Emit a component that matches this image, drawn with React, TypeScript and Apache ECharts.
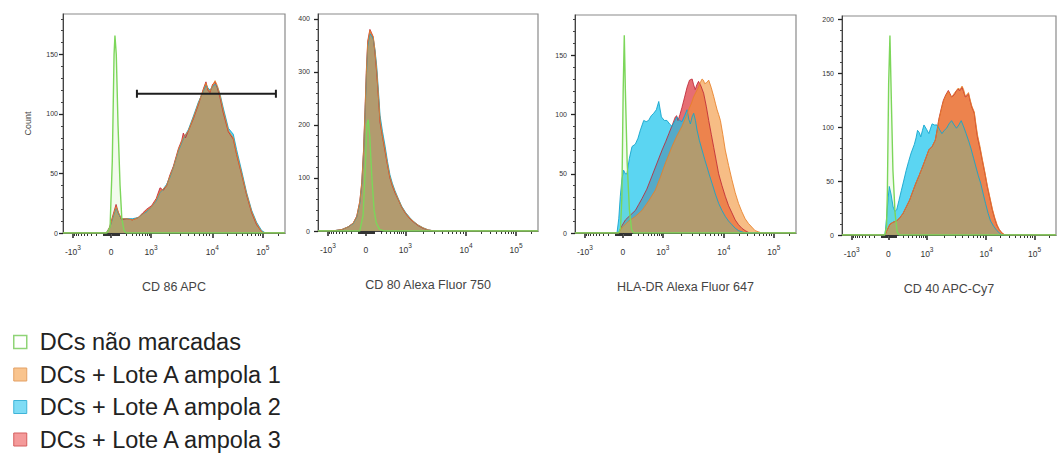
import React, { useEffect, useRef } from "react";
import * as echarts from "echarts";

// ---------- text ----------
const legendNames = [
  "DCs não marcadas",
  "DCs + Lote A ampola 1",
  "DCs + Lote A ampola 2",
  "DCs + Lote A ampola 3",
];
const panelTitles = ["CD 86 APC", "CD 80 Alexa Fluor 750", "HLA-DR Alexa Fluor 647", "CD 40 APC-Cy7"];

// ---------- axes ----------
const yMaxes = [184, 409, 184, 203];
const yMajorSteps = [50, 100, 50, 50];
const yMinorSteps = [10, 20, 10, 10];
const xTickValues = [-1000, 0, 1000, 10000, 100000];
const xTickBases = ["-10", "0", "10", "10", "10"];
const xTickExponents = ["3", "", "3", "4", "5"];
const xMinorValues = [
  -900, -800, -700, -600, -500, -400, -300, -200, -100,
  -90, -80, -70, -60, -50, -40, -30, -20, -10,
  10, 20, 30, 40, 50, 60, 70, 80, 90,
  100, 200, 300, 400, 500, 600, 700, 800, 900,
  2000, 3000, 4000, 5000, 6000, 7000, 8000, 9000,
  20000, 30000, 40000, 50000, 60000, 70000, 80000, 90000,
  200000,
];

// ---------- histograms (x = display channel 0..1000, y = count) ----------
const cd86Green = [[0,0],[198,0],[212,5],[222,60],[230,150],[234,166],[240,150],[248,90],[257,40],[265,12],[275,2],[285,0],[1000,0]];
const cd86Orange = [[0,0],[195,0],[210,4],[225,14],[239,22],[250,17],[264,12],[287,12],[313,11],[339,13],[360,16],[377,19],[399,22],[420,28],[437,35],[452,37],[467,40],[482,48],[497,55],[520,70],[542,80],[565,86],[587,97],[610,109],[632,120],[644,126],[653,121],[662,119],[674,124],[685,128],[695,124],[707,116],[722,103],[745,86],[767,80],[782,67],[805,50],[827,33],[850,18],[872,8],[895,1],[910,0],[1000,0]];
const cd86Cyan = [[0,0],[195,0],[210,4],[225,13],[239,21],[250,16],[264,12],[287,12],[313,12],[339,13],[360,16],[377,18],[399,22],[420,27],[437,34],[452,37],[467,41],[482,47],[497,55],[520,69],[542,79],[565,87],[587,98],[610,110],[632,119],[644,124],[653,122],[662,120],[674,123],[685,125],[695,123],[707,117],[722,105],[745,88],[767,83],[782,70],[805,52],[827,34],[850,19],[872,9],[895,2],[912,0],[1000,0]];
const cd86Red = [[0,0],[195,0],[210,5],[225,15],[239,24],[250,17],[264,11],[287,12],[313,11],[339,13],[360,17],[377,20],[399,23],[420,29],[437,38],[452,36],[467,40],[482,49],[497,56],[520,71],[535,78],[542,84],[552,80],[565,86],[587,96],[610,108],[632,121],[644,127],[653,120],[662,118],[674,125],[685,127],[695,122],[707,114],[722,101],[745,85],[767,79],[782,66],[805,49],[827,32],[850,17],[872,7],[895,1],[910,0],[1000,0]];
const cd86Gate = [[333, 959, 117]];

const cd80Green = [[0,0],[190,0],[205,30],[215,120],[222,200],[228,210],[235,180],[245,100],[255,40],[265,15],[280,3],[300,0],[1000,0]];
const cd80Orange = [[0,0],[47,0],[80,1],[110,3],[138,8],[160,15],[176,27],[190,55],[199,90],[207,150],[214,228],[220,300],[226,354],[236,378],[243,372],[251,367],[259,340],[267,303],[275,255],[282,209],[293,180],[305,153],[316,126],[327,102],[338,87],[350,74],[365,60],[380,46],[398,34],[418,24],[437,17],[456,11],[478,6],[501,2],[530,0],[1000,0]];
const cd80Cyan = [[0,0],[47,0],[80,1],[110,3],[138,8],[160,14],[176,26],[190,52],[199,86],[207,145],[214,222],[220,292],[226,348],[236,372],[243,368],[251,362],[259,342],[267,310],[275,262],[282,218],[293,188],[305,160],[316,131],[327,106],[338,90],[350,76],[365,61],[380,47],[398,35],[418,25],[437,17],[456,11],[478,6],[501,2],[530,0],[1000,0]];
const cd80Red = [[0,0],[47,0],[80,1],[110,3],[138,8],[160,15],[176,28],[190,56],[199,92],[207,152],[214,232],[220,305],[226,358],[236,380],[243,374],[251,365],[259,336],[267,298],[275,250],[282,205],[293,178],[305,150],[316,124],[327,100],[338,85],[350,72],[365,59],[380,45],[398,33],[418,23],[437,16],[456,10],[478,5],[501,2],[530,0],[1000,0]];

const hladrGreen = [[0,0],[198,0],[206,4],[212,30],[218,120],[223,167],[228,120],[236,60],[246,20],[256,3],[265,0],[1000,0]];
const hladrOrange = [[0,0],[197,0],[215,5],[243,10],[273,14],[303,19],[333,27],[363,36],[386,47],[409,59],[424,66],[439,73],[461,82],[484,90],[500,97],[514,104],[526,109],[537,115],[548,119],[559,123],[567,127],[575,130],[581,129],[587,126],[596,127],[605,129],[616,123],[628,115],[636,109],[643,104],[650,100],[658,95],[669,83],[680,70],[695,57],[710,45],[725,34],[740,25],[755,18],[770,12],[785,8],[800,5],[815,2],[830,1],[845,0],[1000,0]];
const hladrCyan = [[0,0],[190,0],[198,12],[205,31],[212,45],[220,53],[228,50],[235,50],[246,63],[258,73],[273,75],[285,80],[296,87],[311,95],[322,94],[333,95],[345,99],[356,101],[368,104],[379,111],[391,98],[404,95],[416,95],[428,92],[439,90],[450,94],[461,98],[473,95],[484,94],[496,99],[507,104],[515,96],[522,92],[530,98],[537,101],[545,95],[552,87],[563,78],[575,70],[587,62],[597,56],[608,49],[620,42],[635,33],[650,25],[665,19],[680,14],[695,10],[710,7],[725,4],[740,2],[770,0],[1000,0]];
const hladrRed = [[0,0],[197,0],[212,6],[228,11],[250,15],[273,19],[288,24],[303,29],[325,37],[348,48],[371,59],[394,70],[410,77],[425,84],[440,91],[454,98],[460,99],[466,95],[475,100],[484,106],[495,114],[507,123],[518,129],[530,130],[537,125],[544,121],[551,125],[559,128],[570,124],[582,118],[594,107],[605,95],[617,83],[628,72],[640,60],[650,50],[665,40],[680,31],[695,23],[710,17],[725,11],[740,7],[755,4],[770,2],[790,0],[1000,0]];

const cd40Green = [[0,0],[200,0],[208,8],[212,40],[218,140],[224,185],[230,130],[238,60],[248,20],[258,3],[268,0],[1000,0]];
const cd40Orange = [[0,0],[201,0],[212,5],[224,10],[240,12],[255,13],[270,16],[285,20],[300,26],[315,32],[330,40],[345,48],[360,55],[376,63],[391,71],[406,79],[421,82],[436,88],[445,97],[452,106],[459,112],[466,118],[474,124],[485,129],[497,133],[505,130],[512,128],[520,130],[527,132],[535,134],[542,136],[552,135],[561,138],[568,135],[576,129],[584,130],[591,132],[598,126],[606,120],[612,117],[618,114],[625,104],[633,93],[645,82],[656,70],[668,58],[679,46],[691,35],[703,24],[714,16],[724,10],[735,5],[747,2],[762,0],[1000,0]];
const cd40Cyan = [[0,0],[201,0],[210,20],[216,35],[221,45],[229,38],[239,26],[247,22],[255,23],[266,32],[277,41],[288,50],[300,60],[311,68],[323,76],[338,84],[346,90],[353,97],[361,95],[368,91],[376,97],[383,102],[395,98],[406,94],[414,99],[421,103],[432,102],[444,102],[455,98],[467,94],[478,97],[489,99],[500,103],[512,106],[524,102],[535,99],[546,102],[557,106],[569,100],[580,94],[592,87],[603,80],[615,71],[626,63],[637,55],[648,48],[660,38],[671,29],[683,20],[694,13],[709,8],[724,4],[735,2],[747,0],[1000,0]];
const cd40Red = [[0,0],[201,0],[212,5],[224,10],[240,12],[255,13],[270,16],[285,20],[300,26],[315,32],[330,40],[345,48],[360,55],[376,63],[391,71],[406,79],[421,82],[436,88],[445,98],[452,107],[459,113],[466,119],[474,125],[485,130],[497,134],[505,131],[512,128],[520,129],[527,131],[535,134],[542,135],[552,134],[561,137],[568,133],[576,128],[584,129],[591,131],[598,125],[606,119],[612,116],[618,113],[625,102],[633,91],[645,80],[656,69],[668,57],[679,45],[691,34],[703,23],[714,15],[724,9],[735,5],[747,2],[760,0],[1000,0]];

const panels = [
  { green: cd86Green, orange: cd86Orange, cyan: cd86Cyan, red: cd86Red },
  { green: cd80Green, orange: cd80Orange, cyan: cd80Cyan, red: cd80Red },
  { green: hladrGreen, orange: hladrOrange, cyan: hladrCyan, red: hladrRed },
  { green: cd40Green, orange: cd40Orange, cyan: cd40Cyan, red: cd40Red },
];

// ---------- layout / style ----------
const GRIDS = [
  { left: 63, top: 14, width: 222, height: 219 },
  { left: 318, top: 14, width: 220, height: 217 },
  { left: 575, top: 15, width: 221, height: 218 },
  { left: 842, top: 16, width: 214, height: 219 },
];
const FONT = "'Liberation Sans', Arial, sans-serif";

// biexponential-like display scale for the tick marks (value -> channel 0..1000)
function toChannel(v: number): number {
  if (v >= 10000) return 673 + (Math.log10(v) - 4) * 227;
  if (v >= 1000) return 397 + (Math.log10(v) - 3) * 276;
  if (v >= 0) return 217 + 77.9 * Math.asinh(v / 200);
  return 217 - 74.4 * Math.asinh(-v / 200);
}

function range(step: number, max: number) {
  const out: number[] = [];
  for (let v = 0; v <= max + 1e-9; v += step) out.push(v);
  return out;
}

function buildOption() {
  const majorPos = xTickValues.map(toChannel);
  const minorPos = xMinorValues.map(toChannel);
  const xLabelFor = (v: number) => {
    let best = 0;
    majorPos.forEach((p, i) => {
      if (Math.abs(p - v) < Math.abs(majorPos[best] - v)) best = i;
    });
    const exp = xTickExponents[best];
    return "{b|" + xTickBases[best] + "}" + (exp ? "{s|" + exp + "}" : "");
  };

  const grid: any[] = [];
  const xAxis: any[] = [];
  const yAxis: any[] = [];
  const series: any[] = [];

  GRIDS.forEach((g, i) => {
    grid.push({ ...g, show: true, borderColor: "#8a8a8a", borderWidth: 1.2, containLabel: false });
    xAxis.push({
      type: "value", gridIndex: i, min: 0, max: 1000, position: "bottom",
      axisLine: { show: true, onZero: false, lineStyle: { color: "#444", width: 1 } },
      axisTick: { show: true, length: 5, customValues: majorPos, lineStyle: { color: "#222", width: 1.5 } },
      axisLabel: {
        show: true, customValues: majorPos, formatter: xLabelFor, color: "#333", margin: 11, fontFamily: FONT,
        rich: {
          b: { fontSize: 8.5, color: "#333", fontFamily: FONT, verticalAlign: "bottom", lineHeight: 12 },
          s: { fontSize: 6.5, color: "#333", fontFamily: FONT, verticalAlign: "top", lineHeight: 12 },
        },
      },
      splitLine: { show: false },
      name: panelTitles[i], nameLocation: "middle", nameGap: 47,
      nameTextStyle: { fontSize: 12.5, color: "#444", fontFamily: FONT },
    });
    xAxis.push({
      type: "value", gridIndex: i, min: 0, max: 1000, position: "bottom",
      axisLine: { show: false, onZero: false },
      axisTick: { show: true, length: 3, customValues: minorPos, lineStyle: { color: "#333", width: 1 } },
      axisLabel: { show: false },
      splitLine: { show: false },
    });
    const majors = range(yMajorSteps[i], yMaxes[i]);
    const minors = range(yMinorSteps[i], yMaxes[i]).filter((v) => v % yMajorSteps[i] !== 0);
    yAxis.push({
      type: "value", gridIndex: i, min: 0, max: yMaxes[i], position: "left",
      axisLine: { show: true, onZero: false, lineStyle: { color: "#444", width: 1 } },
      axisTick: { show: true, length: 4, customValues: majors, lineStyle: { color: "#222", width: 1.3 } },
      axisLabel: { show: true, customValues: majors, fontSize: 7, color: "#333", margin: i === 0 ? 5 : 8, fontFamily: FONT },
      splitLine: { show: false },
      name: i === 0 ? "Count" : "", nameLocation: "middle", nameGap: 31,
      nameTextStyle: { fontSize: 9, color: "#444", fontFamily: FONT },
    });
    yAxis.push({
      type: "value", gridIndex: i, min: 0, max: yMaxes[i], position: "left",
      axisLine: { show: false, onZero: false },
      axisTick: { show: true, length: 2, customValues: minors, lineStyle: { color: "#444", width: 1 } },
      axisLabel: { show: false },
      splitLine: { show: false },
    });

    const p = panels[i];
    const base = { type: "line", xAxisIndex: 2 * i, yAxisIndex: 2 * i, symbol: "none", showSymbol: false, smooth: false, silent: true };
    series.push({ ...base, name: legendNames[3], data: p.red,
      lineStyle: { color: "rgba(190,40,55,0.85)", width: 1 },
      areaStyle: { color: "rgba(213,13,22,0.6)", opacity: 1 } });
    series.push({ ...base, name: legendNames[2], data: p.cyan,
      lineStyle: { color: "rgba(20,165,205,0.9)", width: 1 },
      areaStyle: { color: "rgba(22,195,236,0.7)", opacity: 1 } });
    series.push({ ...base, name: legendNames[1], data: p.orange,
      lineStyle: { color: "rgba(232,128,40,0.85)", width: 1 },
      areaStyle: { color: "rgba(242,145,52,0.6)", opacity: 1 } });
    series.push({ ...base, name: legendNames[0], data: p.green,
      lineStyle: { color: "#7cd65a", width: 1.4 },
      areaStyle: { color: "rgba(150,225,110,0.12)", opacity: 1 } });
  });

  series.push({
    type: "custom", name: "gate", xAxisIndex: 0, yAxisIndex: 0, data: cd86Gate, silent: true, z: 10,
    encode: { x: [0, 1], y: 2 },
    renderItem: (_params: any, api: any) => {
      const a = api.coord([api.value(0), api.value(2)]);
      const b = api.coord([api.value(1), api.value(2)]);
      const st = { stroke: "#1e1e1e", lineWidth: 2 };
      return {
        type: "group",
        children: [
          { type: "line", shape: { x1: a[0], y1: a[1], x2: b[0], y2: b[1] }, style: st },
          { type: "line", shape: { x1: a[0], y1: a[1] - 4, x2: a[0], y2: a[1] + 4 }, style: st },
          { type: "line", shape: { x1: b[0], y1: b[1] - 4, x2: b[0], y2: b[1] + 4 }, style: st },
        ],
      };
    },
  });

  const legendStyles = [
    { color: "#ffffff", borderColor: "#8fd477", borderWidth: 1.5 },
    { color: "#f9c48e", borderColor: "#e3a064", borderWidth: 1 },
    { color: "#7fdcf5", borderColor: "#3fb4d8", borderWidth: 1 },
    { color: "#f49a9a", borderColor: "#d45e5e", borderWidth: 1 },
  ];

  return {
    animation: false,
    textStyle: { fontFamily: FONT },
    grid,
    xAxis,
    yAxis,
    series,
    legend: {
      orient: "vertical", left: 13, top: 330, padding: 0, itemWidth: 13, itemHeight: 13, itemGap: 8.5,
      icon: "rect", selectedMode: false,
      data: legendNames.map((n, k) => ({ name: n, itemStyle: legendStyles[k] })),
      textStyle: { fontSize: 23.5, color: "#222", fontFamily: FONT, lineHeight: 24, padding: [0, 0, 0, 8] },
    },
  };
}

export default function App() {
  const ref = useRef<HTMLDivElement>(null);
  useEffect(() => {
    document.body.style.margin = "0";
    if (!ref.current) return;
    const chart = echarts.init(ref.current, undefined, { renderer: "svg" });
    chart.setOption(buildOption() as any);
    return () => chart.dispose();
  }, []);
  return <div ref={ref} style={{ width: 1057, height: 455, background: "#fff" }} />;
}
